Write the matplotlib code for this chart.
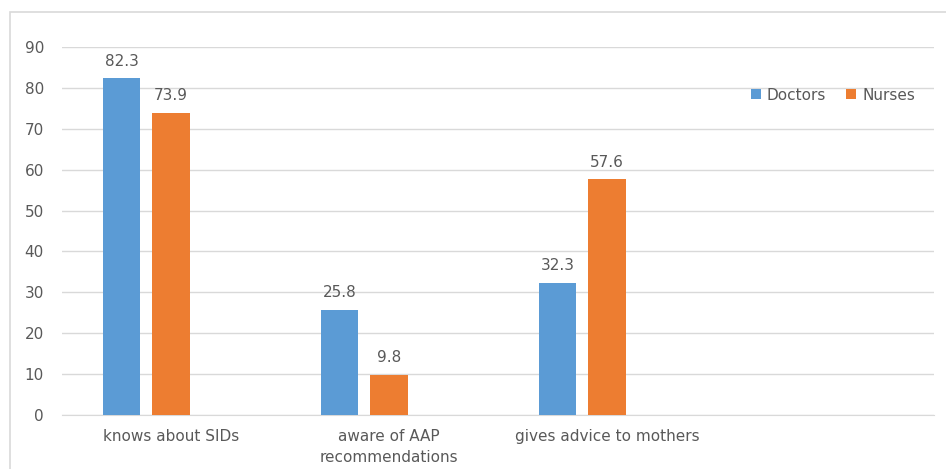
import matplotlib
matplotlib.use("Agg")
import matplotlib.pyplot as plt
from matplotlib.patches import Rectangle
import numpy as np

categories = ["knows about SIDs", "aware of AAP\nrecommendations", "gives advice to mothers", ""]
doctors = [82.3, 25.8, 32.3]
nurses = [73.9, 9.8, 57.6]
yticks = [0, 10, 20, 30, 40, 50, 60, 70, 80, 90]

plt.rcParams['font.family'] = ['DejaVu Sans']
txt = '#595959'
blue = '#5B9BD5'
orange = '#ED7D31'
fs = 11

W, H = 946, 469
fig = plt.figure(figsize=(W/100, H/100), dpi=100)
fig.patches.append(Rectangle((10/W, -0.05), 1.0, (469-12)/H + 0.05, transform=fig.transFigure,
                             fill=False, edgecolor='#D9D9D9', linewidth=1.2))
ax = fig.add_axes([62/W, (H-415)/H, (934-62)/W, (415-47)/H])

x = np.arange(len(doctors))
bw = 0.172
b1 = ax.bar(x - 0.227, doctors, bw, color=blue, label='Doctors', zorder=3)
b2 = ax.bar(x, nurses, bw, color=orange, label='Nurses', zorder=3)

for bars, vals in ((b1, doctors), (b2, nurses)):
    for b, v in zip(bars, vals):
        ax.annotate(f"{v}", (b.get_x() + b.get_width()/2, v), xytext=(0, 7),
                    textcoords='offset points', ha='center', va='bottom',
                    fontsize=fs, color=txt)

ax.set_ylim(0, 90)
ax.set_xlim(-0.5, len(categories) - 0.5)
ax.set_yticks(yticks)
ax.set_xticks(np.arange(len(categories)))
ax.set_xticklabels(categories, fontsize=fs, color=txt, linespacing=1.5)
ax.tick_params(axis='y', labelsize=fs, labelcolor=txt, length=0, pad=13)
ax.tick_params(axis='x', length=0, pad=10)
ax.yaxis.grid(True, color='#D9D9D9', linewidth=1, zorder=0)
for s in ['top', 'right', 'left']:
    ax.spines[s].set_visible(False)
ax.spines['bottom'].set_color('#D9D9D9')

ax.legend(loc='center left', bbox_to_anchor=(740/W, (H-95)/H), bbox_transform=fig.transFigure,
          ncol=2, frameon=False, fontsize=fs, labelcolor=txt, handlelength=0.65,
          handleheight=0.65, handletextpad=0.4, columnspacing=1.3, borderpad=0.2)

fig.savefig("out.png", dpi=100, facecolor='white')
